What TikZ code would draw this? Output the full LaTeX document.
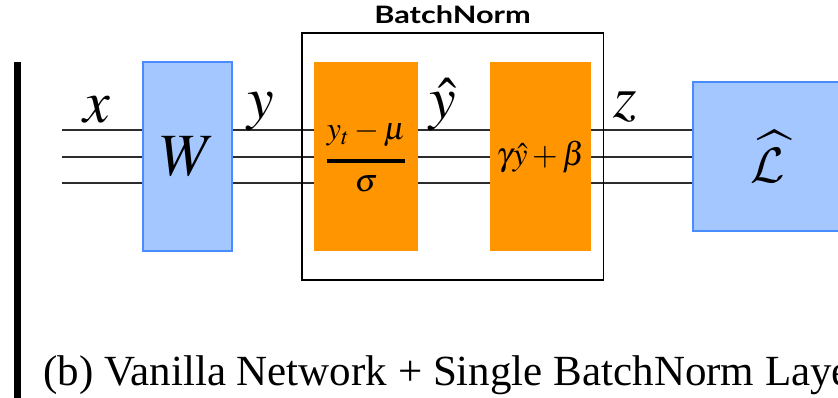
\documentclass[tikz,border=0pt]{standalone}
\usepackage{mathptmx}
\usepackage{amsmath}
\DeclareMathAlphabet{\mathcal}{OMS}{cmsy}{m}{n}
\usepackage{fontspec}
\setmainfont{Liberation Serif}
\newfontfamily\labelfont{Lato}
\usetikzlibrary{positioning, fit, backgrounds}

\definecolor{layerfill}{RGB}{164,199,255}
\definecolor{layeredge}{RGB}{72,140,255}
\definecolor{bnorange}{RGB}{255,149,0}
\definecolor{wiregray}{RGB}{45,45,45}

\begin{document}
\begin{tikzpicture}[
    x=0.5pt, y=-0.5pt,
    layer/.style={rectangle, draw=layeredge, fill=layerfill, line width=0.75pt, minimum width=#1, minimum height=94.5pt, inner sep=0pt},
    bnstep/.style={rectangle, fill=bnorange, minimum width=#1, minimum height=94.5pt, inner sep=0pt},
    wire/.style={draw=wiregray, line width=1pt},
    sig/.style={font=\fontsize{30}{36}\selectfont, inner sep=0pt, anchor=base},
]
    \clip (0,0) rectangle (838,397);

    % Weight layer
    \node[layer=44.5pt, font=\fontsize{30}{36}\selectfont] (w) at (187.5,156.5) {$W$};

    % BatchNorm: normalise, then scale and shift
    \node[bnstep=52pt, right=40.5pt of w, font=\fontsize{16}{19}\selectfont] (norm) {$\genfrac{}{}{2pt}{0}{y_t-\mu}{\sigma}$};
    \node[bnstep=50.5pt, right=35.5pt of norm, font=\fontsize{16.5}{19}\selectfont] (affine) {$\gamma\hat{y}+\beta$};
    \node[draw, line width=0.75pt, fit=(norm)(affine), inner xsep=6pt, inner ysep=14.25pt] (bn) {};
    \node[above=4pt of bn, inner sep=0pt, font=\labelfont\bfseries\fontsize{12}{15}\selectfont] (bnlabel) {\scalebox{1.28}[1]{BatchNorm}};

    % Loss
    \node[layer=75pt, minimum height=74.5pt, right=50.5pt of affine, font=\fontsize{31}{36}\selectfont] (loss) {$\widehat{\mathcal{L}}$};

    % Wires, behind the boxes
    \coordinate (in) at (62,156.5);
    \begin{scope}[on background layer]
        \foreach \dy in {-13.25pt,0pt,13.25pt}
            \draw[wire] ([yshift=\dy]in) -- ([yshift=\dy]loss.west);
    \end{scope}

    % Signal labels
    \node[sig] (xlab) at (97,122) {$x$};
    \node[sig] (ylab) at (261,118) {$y$};
    \node[sig] (yhatlab) at (443,118) {$\hat{y}$};
    \node[sig] (zlab) at (625,117) {$z$};

    % Separator rule
    \coordinate (ruletop) at (17,62);
    \coordinate (rulebot) at (17,400);
    \draw[line width=3.5pt] (ruletop) -- (rulebot);

    % Caption
    \node[anchor=base west, inner sep=0pt, font=\fontsize{21.5}{26}\selectfont] (caption) at (43,385) {(b) Vanilla Network + Single BatchNorm Layer};
\end{tikzpicture}
\end{document}
